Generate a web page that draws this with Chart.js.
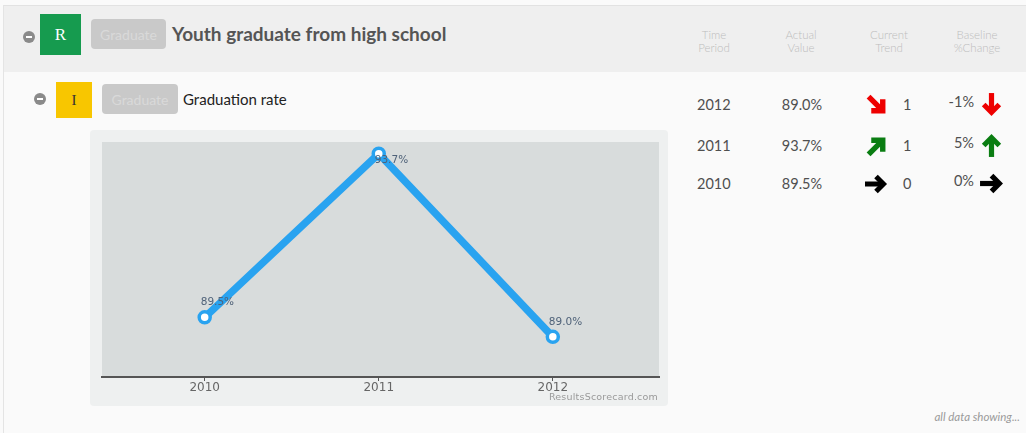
<!DOCTYPE html>
<html>
<head>
<meta charset="utf-8">
<script src="https://cdn.jsdelivr.net/npm/chart.js@4/dist/chart.umd.min.js"></script>
<style>
  html, body { margin: 0; padding: 0; }
  body { width: 1026px; height: 433px; position: relative; overflow: hidden; background: #fafafa; font-family: Lato, "Open Sans", sans-serif; }
  .abs { position: absolute; }
  .frame { left: 3px; top: 5px; right: 0; bottom: 0; border-left: 1px solid #e4e4e4; border-top: 1px solid #e2e2e2; background: #fafafa; }
  .band { left: 4px; top: 6px; right: 0; height: 66px; background: #efefef; }
  .minus { width: 12px; height: 12px; border-radius: 50%; background: #8a8a8a; }
  .minus::after { content: ""; position: absolute; left: 3px; top: 5px; width: 6px; height: 2px; background: #fff; }
  .badge { display: flex; align-items: center; justify-content: center; font-family: "Liberation Serif", serif; }
  .pill { background: #c9c9c9; border-radius: 4px; color: #d9d9d9; font-size: 14px; display: flex; align-items: center; justify-content: center; }
  .colhead { width: 80px; text-align: center; color: #bdbdbd; font-size: 11.5px; line-height: 13px; font-weight: 300; }
  .cell { color: #4f4f4f; font-size: 14.5px; line-height: 18px; }
  .panel { left: 90px; top: 130px; width: 578px; height: 276px; background: #eef0f0; border-radius: 4px; }
  #chart { position: absolute; left: 90px; top: 130px; }
  .credit { right: 368px; top: 391px; font-family: "DejaVu Sans", sans-serif; font-size: 9.5px; color: #9a9a9a; letter-spacing: 0.2px; }
  svg.arrow { position: absolute; overflow: visible; }
</style>
</head>
<body>
<div class="abs frame"></div>
<div class="abs band"></div>

<!-- result row -->
<div class="abs minus" style="left:23px;top:31px;"></div>
<div class="abs badge" style="left:40px;top:14px;width:41px;height:41px;background:#169b4f;color:#fff;font-size:17px;">R</div>
<div class="abs pill" style="left:91px;top:19px;width:75px;height:30px;">Graduate</div>
<div class="abs" id="resultTitle" style="left:172px;top:22px;font-size:19px;font-weight:700;color:#555;"></div>

<div class="abs colhead" style="left:674px;top:28px;">Time<br>Period</div>
<div class="abs colhead" style="left:761px;top:28px;">Actual<br>Value</div>
<div class="abs colhead" style="left:849px;top:28px;">Current<br>Trend</div>
<div class="abs colhead" style="left:937px;top:28px;">Baseline<br>%Change</div>

<!-- indicator row -->
<div class="abs minus" style="left:34px;top:93px;"></div>
<div class="abs badge" style="left:56px;top:82px;width:36px;height:36px;background:#f8c600;color:#333;font-size:15px;">I</div>
<div class="abs pill" style="left:102px;top:84px;width:76px;height:30px;">Graduate</div>
<div class="abs" id="indicatorTitle" style="left:183px;top:90px;font-size:15px;color:#222;"></div>

<div id="table"></div>

<div class="abs panel"></div>
<canvas id="chart" width="578" height="276"></canvas>
<div class="abs credit">ResultsScorecard.com</div>
<div class="abs" style="right:6px;top:410px;font-size:11.5px;font-style:italic;color:#9a9a9a;">all data showing...</div>

<script>
// Graduation rate by school year
const resultName = "Youth graduate from high school";
const indicatorName = "Graduation rate";
const years = [2010, 2011, 2012];
const rates = [89.5, 93.7, 89.0];

// scorecard table, newest period first
const periods = ["2012", "2011", "2010"];
const actualValues = ["89.0%", "93.7%", "89.5%"];
const trendCounts = ["1", "1", "0"];
const trendDirections = ["down", "up", "flat"];
const baselineChanges = ["-1%", "5%", "0%"];

document.getElementById("resultTitle").textContent = resultName;
document.getElementById("indicatorTitle").textContent = indicatorName;

// arrow glyphs: a chevron arrow pointing right, rotated per direction
const arrowStyles = {
  down: { color: "#ee0000", diag: 45, straight: 90 },
  up:   { color: "#0a7d12", diag: -45, straight: -90 },
  flat: { color: "#000000", diag: 0, straight: 0 }
};
function arrowSvg(color, angle, left, top, size) {
  return '<svg class="arrow" width="' + size + '" height="' + size + '" viewBox="0 0 24 24" style="left:' + left + 'px;top:' + top + 'px;">' +
    '<g transform="rotate(' + angle + ' 12 12)" fill="none" stroke="' + color + '" stroke-width="5" stroke-linejoin="miter">' +
    '<path d="M1 12 H19"/><path d="M12 4.5 L19.5 12 L12 19.5"/></g></svg>';
}

const rowTops = [96, 137, 175];
let html = "";
periods.forEach((p, i) => {
  const t = rowTops[i];
  const st = arrowStyles[trendDirections[i]];
  html += '<div class="abs cell" style="left:697px;top:' + t + 'px;">' + p + '</div>';
  html += '<div class="abs cell" style="left:762px;width:80px;text-align:center;top:' + t + 'px;">' + actualValues[i] + '</div>';
  html += '<div class="abs cell" style="left:903px;top:' + t + 'px;">' + trendCounts[i] + '</div>';
  html += '<div class="abs cell" style="right:52px;text-align:right;top:' + (t - 3) + 'px;">' + baselineChanges[i] + '</div>';
  const diagSize = st.diag === 0 ? 24 : 26;
  html += arrowSvg(st.color, st.diag, 864, t - 3 + (st.diag === 0 ? 0 : -1), diagSize);
  html += arrowSvg(st.color, st.straight, 979, t - 4, 25);
});
document.getElementById("table").innerHTML = html;

// shaded plotting area behind the line
const plotBackground = {
  id: "plotBackground",
  beforeDraw(chart) {
    const { ctx, chartArea: a } = chart;
    ctx.save();
    ctx.fillStyle = "#d8dcdc";
    ctx.fillRect(a.left, a.top, a.right - a.left, a.bottom - a.top);
    ctx.restore();
  }
};

// value labels above each point, moved below when they would leave the plot
const valueLabels = {
  id: "valueLabels",
  afterDatasetsDraw(chart) {
    const { ctx, chartArea: a } = chart;
    const meta = chart.getDatasetMeta(0);
    ctx.save();
    ctx.font = "10.5px 'DejaVu Sans', sans-serif";
    ctx.fillStyle = "#4f6279";
    ctx.textAlign = "left";
    ctx.textBaseline = "middle";
    meta.data.forEach((pt, i) => {
      let y = pt.y - 15;
      if (y - 6 < a.top) y = pt.y + 7;
      ctx.fillText(rates[i].toFixed(1) + "%", pt.x - 4, y);
    });
    ctx.restore();
  }
};

new Chart(document.getElementById("chart"), {
  type: "line",
  data: {
    datasets: [{
      data: years.map((yr, i) => ({ x: yr, y: rates[i] })),
      borderColor: "#29a3f0",
      borderWidth: 7.5,
      pointRadius: 5.5,
      pointBorderWidth: 3.5,
      pointBackgroundColor: "#ffffff",
      pointBorderColor: "#29a3f0",
      tension: 0
    }]
  },
  options: {
    responsive: false,
    animation: false,
    layout: { padding: { left: 12, right: 8, top: 12, bottom: 0 } },
    plugins: { legend: { display: false }, tooltip: { enabled: false } },
    scales: {
      x: {
        type: "linear",
        min: 2009.41,
        max: 2012.61,
        afterBuildTicks(axis) { axis.ticks = years.map(v => ({ value: v })); },
        afterFit(axis) { axis.height = 29; },
        grid: { drawOnChartArea: false, drawTicks: true, tickLength: 4, color: "#555", lineWidth: 1 },
        border: { display: true, color: "#555", width: 2 },
        ticks: {
          padding: 0,
          color: "#666",
          font: { family: "'DejaVu Sans', sans-serif", size: 12 },
          callback: v => String(v),
          maxRotation: 0
        }
      },
      y: {
        display: false,
        min: 87.97,
        max: 94.0
      }
    }
  },
  plugins: [plotBackground, valueLabels]
});
</script>
</body>
</html>
